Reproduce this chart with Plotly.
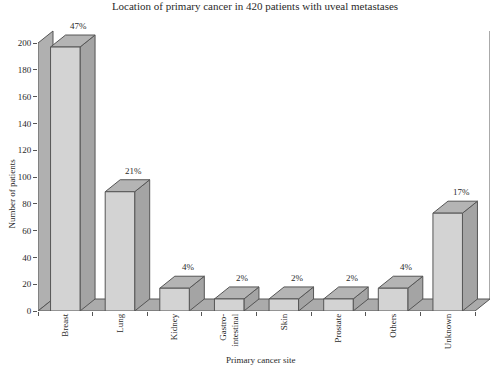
import plotly.graph_objects as go

# ---- data ----
categories = ["Breast", "Lung", "Kidney", "Gastro-<br>intestinal", "Skin", "Prostate", "Others", "Unknown"]
patients = [197, 89, 17, 9, 9, 9, 17, 73]
pct_labels = ["47%", "21%", "4%", "2%", "2%", "2%", "4%", "17%"]
y_ticks = [0, 20, 40, 60, 80, 100, 120, 140, 160, 180, 200]

# ---- style ----
FONT = "Liberation Serif, Times New Roman, serif"
TXT = "#2a2a2a"
EDGE = "#555555"
FRONT = "#d3d3d3"
SIDE = "#a4a4a4"
TOP = "#b4b4b4"
FLOOR = "#ababab"
WALL = "#b0b0b0"

W, H = 500, 370
ml, mr, mt, mb = 38, 10, 10, 59
plot_w = W - ml - mr
plot_h = H - mt - mb
n = len(categories)
ymax = y_ticks[-1]
px_per_cat = 437 / n
xr = [-0.5, -0.5 + plot_w / px_per_cat]
px_per_unit = 268 / ymax
yr = [0, plot_h / px_per_unit]

dx = 15 / px_per_cat      # depth offset in category units
dy = 12 / px_per_unit     # depth offset in value units
hw = 0.27                 # half bar width

x = list(range(n))
x0, x1 = -0.5, n - 0.5

fig = go.Figure()

def poly(xs, ys, fill, line=EDGE):
    fig.add_trace(go.Scatter(x=xs + [xs[0]], y=ys + [ys[0]], mode="lines",
                             fill="toself", fillcolor=fill,
                             line=dict(color=line, width=1),
                             hoverinfo="skip", showlegend=False))

# left wall
poly([x0, x0 + dx, x0 + dx, x0], [0, dy, ymax + dy, ymax], WALL)
# floor
poly([x0, x1, x1 + dx, x0 + dx], [0, 0, dy, dy], FLOOR)
# right back edge
fig.add_trace(go.Scatter(x=[x1 + dx, x1 + dx], y=[dy, ymax + dy], mode="lines",
                         line=dict(color=EDGE, width=1), hoverinfo="skip", showlegend=False))

# bars: side, top, front faces
for xi, v in zip(x, patients):
    poly([xi + hw, xi + hw + dx, xi + hw + dx, xi + hw], [0, dy, v + dy, v], SIDE)
    poly([xi - hw, xi - hw + dx, xi + hw + dx, xi + hw], [v, v + dy, v + dy, v], TOP)
    poly([xi - hw, xi + hw, xi + hw, xi - hw], [0, 0, v, v], FRONT)

annotations = []
for xi, v, t in zip(x, patients, pct_labels):
    annotations.append(dict(x=xi + 0.25, y=v, text=t, showarrow=False,
                            yshift=21, yanchor="middle",
                            font=dict(family=FONT, size=9, color=TXT)))

annotations.append(dict(xref="paper", yref="paper", x=0.5, y=-0.163,
                        text="Primary cancer site", showarrow=False,
                        xshift=-4, yanchor="middle",
                        font=dict(family=FONT, size=9, color=TXT)))
annotations.append(dict(xref="paper", yref="paper", x=0, xshift=-26, y=0.39,
                        text="Number of patients", showarrow=False, textangle=-90,
                        xanchor="center", yanchor="middle",
                        font=dict(family=FONT, size=9, color=TXT)))

fig.update_layout(
    width=W, height=H,
    margin=dict(l=ml, r=mr, t=mt, b=mb),
    paper_bgcolor="white", plot_bgcolor="white",
    title=dict(text="Location of primary cancer in 420 patients with uveal metastases",
               x=0.51, xanchor="center", y=1 - 6 / H, yanchor="middle", yref="container",
               font=dict(family=FONT, size=11, color=TXT)),
    annotations=annotations,
    font=dict(family=FONT, color=TXT),
)

fig.update_xaxes(range=xr, showgrid=False, zeroline=False, showline=False,
                 tickmode="array", tickvals=x, ticktext=categories, tickangle=-90,
                 ticks="", tickfont=dict(family=FONT, size=9, color=TXT),
                 minor=dict(tickmode="array", tickvals=[i - 0.5 for i in range(n + 1)],
                            ticks="outside", ticklen=4, tickcolor=EDGE, tickwidth=1))
fig.update_yaxes(range=yr, showgrid=False, zeroline=False, showline=False,
                 tickmode="array", tickvals=y_ticks, ticks="outside", ticklen=4,
                 tickcolor=EDGE, tickfont=dict(family=FONT, size=9, color=TXT))

fig.write_html("out.html", config={"displayModeBar": False},
               post_script="document.body.style.margin='0px';")
